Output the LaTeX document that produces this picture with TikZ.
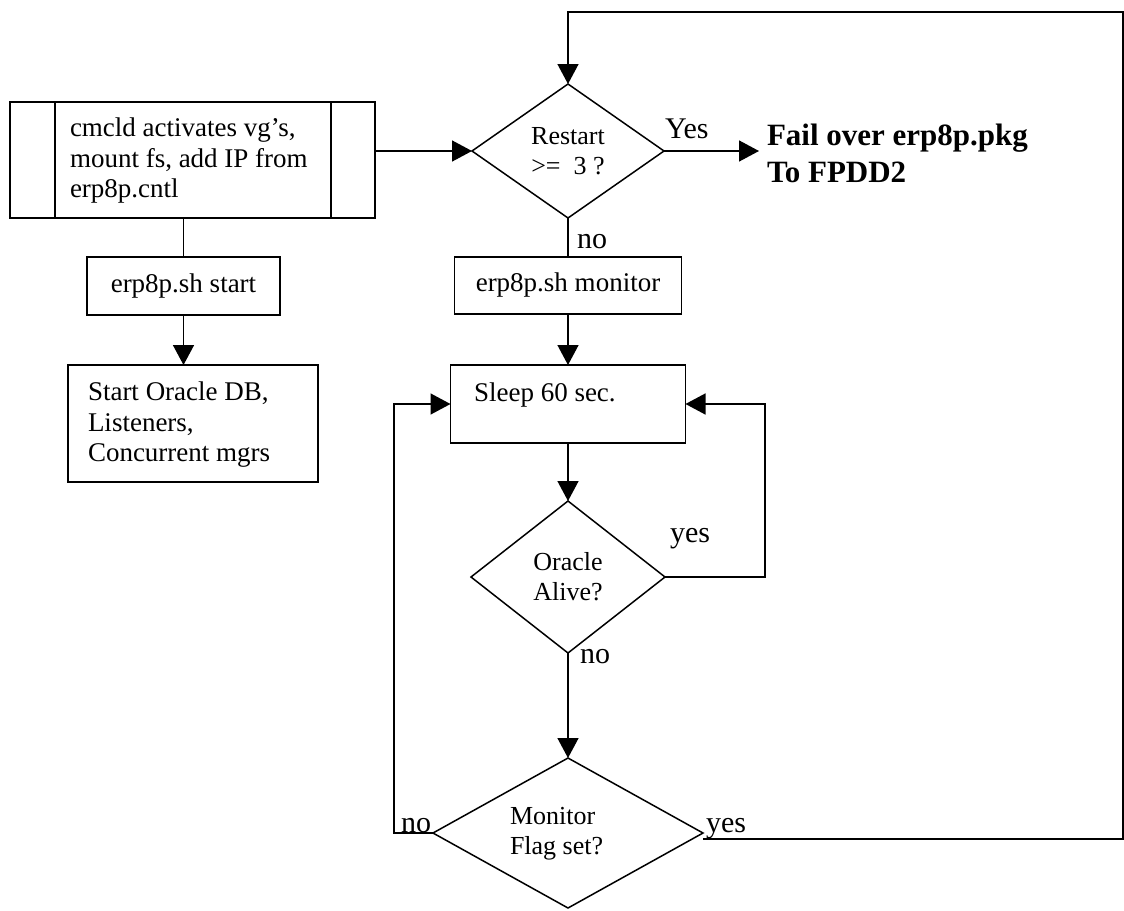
\documentclass[tikz,border=0pt]{standalone}
\usepackage{fontspec}
\setmainfont{Liberation Serif}
\usetikzlibrary{shapes.geometric,arrows.meta,calc}
\begin{document}
\begin{tikzpicture}[x=1pt,y=-1pt,
  line width=1.5pt,
  every node/.style={inner sep=0pt,outer sep=0pt},
  boxtext/.style={font=\fontsize{27}{30.5}\selectfont},
  procbox/.style={draw,rectangle,boxtext},
  decision/.style={draw,diamond,font=\fontsize{26}{30}\selectfont,align=center},
  lbl/.style={font=\fontsize{30}{34}\selectfont,anchor=base west},
  arr/.style={-{Triangle[length=20pt,width=21pt]}},
]
\useasboundingbox (0,0) rectangle (1124,910);

% left column
\node[draw,rectangle,minimum width=365pt,minimum height=116pt] (cmcld) at (192.5,160) {};
\node[boxtext,align=left,anchor=west] (cmcldtxt) at (70,161) {cmcld activates vg’s,\\ mount fs, add IP from\\ erp8p.cntl};
\draw ([xshift=45pt]cmcld.north west) -- ([xshift=45pt]cmcld.south west);
\draw ([xshift=-44pt]cmcld.north east) -- ([xshift=-44pt]cmcld.south east);
\node[procbox,minimum width=193pt,minimum height=58pt] (start) at (183.5,286) {erp8p.sh start};
\node[draw,rectangle,minimum width=250pt,minimum height=117pt] (db) at (193,423.5) {};
\node[boxtext,align=left,anchor=west] (dbtxt) at (88,425) {Start Oracle DB,\\ Listeners,\\ Concurrent mgrs};

% centre column
\node[decision,minimum width=192pt,minimum height=134pt] (restart) at (568,151) {Restart\\ >=\ \ 3 ?};
\node[procbox,minimum width=227pt,minimum height=57pt] (mon) at (568,285.5) {erp8p.sh monitor};
\node[draw,rectangle,minimum width=235pt,minimum height=78pt] (sleep) at (568,404) {};
\node[boxtext,anchor=base west] (sleeptxt) at (474,401) {Sleep 60 sec.};
\node[decision,minimum width=194pt,minimum height=152pt] (oracle) at (568,577) {Oracle\\ Alive?};
\node[draw,diamond,minimum width=270pt,minimum height=150pt] (flag) at (568,833) {};
\node[font=\fontsize{26}{30}\selectfont,align=left,anchor=west] (flagtxt) at (510,834) {Monitor\\ Flag set?};

% failover text
\node[font=\bfseries\fontsize{31}{37}\selectfont,align=left,anchor=west] (fail) at (767,153) {Fail over erp8p.pkg\\ To FPDD2};

% labels
\node[lbl] (yes1) at (665,138) {Yes};
\node[lbl] (no1) at (577,248) {no};
\node[lbl] (yes2) at (670,542) {yes};
\node[lbl] (no2) at (580,663) {no};
\node[lbl] (no3) at (401,832) {no};
\node[lbl] (yes3) at (706,832) {yes};

% helper coordinates
\coordinate (lp) at (394,0);
\coordinate (rp) at (765,0);
\coordinate (br) at (1123,0);
\coordinate (tp) at (0,12);

% connectors
\draw (start.north |- cmcld.south) -- (start.north);
\draw[arr] (start.south) -- (start.south |- db.north);
\draw[arr] (cmcld.east |- restart.west) -- (restart.west);
\draw[arr] (restart.east) -- ([xshift=-8pt]fail.west |- restart.east);
\draw (restart.south) -- (mon.north);
\draw[arr] (mon.south) -- (sleep.north);
\draw[arr] (sleep.south) -- (oracle.north);
\draw[arr] (oracle.south) -- (flag.north);
\draw[arr] (oracle.east) -- (oracle.east -| rp) |- (sleep.east);
\draw[arr] (flag.west) -- (flag.west -| lp) |- (sleep.west);
\draw[arr] ([yshift=-6pt]flag.east) -| (br |- tp) -| (restart.north);
\end{tikzpicture}
\end{document}
